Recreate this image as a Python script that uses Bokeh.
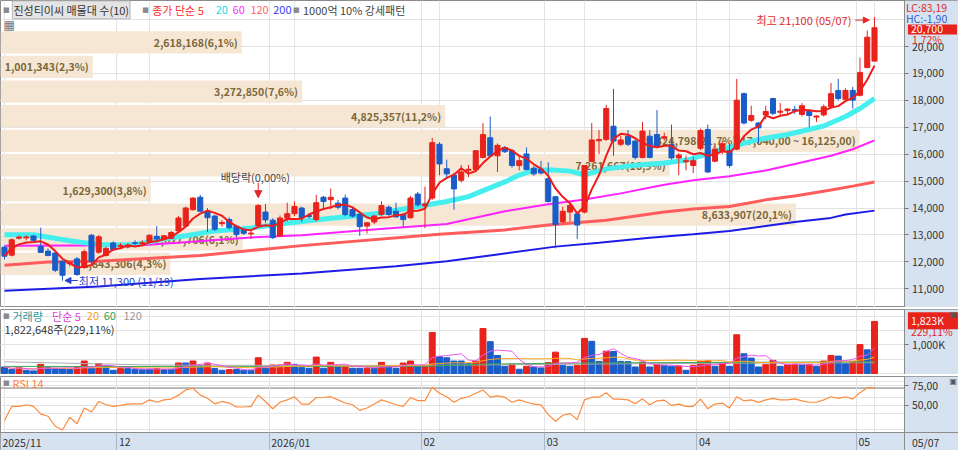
import pandas as pd
from bokeh.plotting import figure
from bokeh.layouts import column
from bokeh.models import (ColumnDataSource, Range1d, FixedTicker, NumeralTickFormatter,
                          Label, Arrow, NormalHead, Grid, Span, LinearAxis, BoxAnnotation)
from bokeh.core.properties import value
from bokeh.embed import file_html
from bokeh.resources import INLINE

# ---------------- data ----------------
stock_name = "진성티이씨"
month_labels = ["2025/11", "12", "2026/01", "02", "03", "04", "05"]
month_first_bar = [0, 16, 37, 58, 75, 96, 118]
last_date_label = "05/07"

opens = [12540, 12250, 12880, 12890, 12960, 12570, 12400, 12330, 12010, 11930,
         12110, 11800, 12990, 12360, 12240, 12700, 12580, 12550, 12710, 12680,
         12740, 12950, 12850, 12870, 13150, 13330, 13940, 14400, 13850, 13700,
         13420, 13570, 13330, 13210, 13040, 13350, 13850, 13550, 12960, 13630,
         13790, 14000, 13720, 13570, 14400, 14310, 14180, 14370, 13940, 13760,
         13330, 13480, 13760, 14030, 13880, 13760, 13640, 14520, 14080, 14370,
         16370, 15460, 15220, 15030, 15400, 15430, 15880, 16610, 15940, 16250,
         16130, 15580, 16010, 15480, 15440, 15090, 14420, 13490, 13850, 13780,
         13850, 15730, 16500, 16550, 17040, 16370, 16670, 16490, 15880, 16670,
         16730, 16600, 16370, 15860, 15720, 15580, 16220, 16920, 15740, 16130,
         16130, 16190, 18250, 17260, 17160, 17460, 18070, 17560, 17620, 17660,
         17480, 17590, 17380, 17460, 17760, 18370, 18040, 18370, 18190, 19220,
         19460]
highs = [12600, 12870, 12980, 12990, 13000, 13270, 12500, 12360, 12050, 12020,
         12180, 12460, 13030, 13000, 12560, 12760, 12700, 12680, 12800, 12800,
         13020, 13330, 13000, 13150, 13700, 14050, 14400, 14490, 14000, 13750,
         13550, 13650, 13380, 13260, 13150, 14150, 14150, 13620, 13720, 14200,
         14250, 14050, 13800, 14490, 14450, 14730, 14300, 14500, 14000, 13800,
         13480, 13750, 14250, 14100, 14200, 13800, 14450, 14600, 14800, 16610,
         16450, 15800, 15300, 15600, 15600, 16150, 17160, 17400, 16400, 16300,
         16200, 15900, 16250, 15550, 15750, 15700, 14450, 14050, 14150, 13800,
         15600, 17160, 16900, 17830, 18430, 16700, 16900, 16550, 17200, 16900,
         17640, 16800, 17100, 16050, 15950, 15900, 16950, 17100, 16300, 16500,
         16400, 18800, 18300, 17800, 17200, 17800, 18100, 17900, 17700, 17800,
         17900, 17650, 17450, 17850, 18650, 18800, 18450, 18500, 19590, 20600,
         21100]
lows = [12090, 12200, 12830, 12800, 12760, 12330, 12200, 11620, 11300, 11830,
        11480, 11740, 11920, 12300, 12200, 12400, 12480, 12500, 12600, 12620,
        12700, 12800, 12800, 12850, 13100, 13300, 13900, 13850, 13110, 13150,
        13300, 13200, 12950, 13000, 12850, 13300, 13450, 12850, 12950, 13500,
        13700, 13480, 13600, 13500, 13950, 13950, 13950, 13700, 13650, 12970,
        13050, 13400, 13700, 13700, 13650, 13300, 13600, 14050, 13250, 14300,
        15220, 15100, 13940, 14950, 15150, 15350, 15850, 15900, 15340, 16050,
        15500, 15400, 15400, 15200, 15250, 14200, 12500, 13450, 13500, 12850,
        13800, 15700, 16000, 16500, 15940, 16300, 16300, 15800, 15850, 15850,
        16250, 16500, 15800, 15220, 15400, 15300, 16150, 15300, 15700, 16000,
        15500, 16150, 17100, 17200, 16400, 17300, 17450, 17400, 17450, 17500,
        17400, 17000, 17200, 17400, 17700, 18000, 17980, 17700, 18150, 19200,
        19450]
closes = [12210, 12820, 12920, 12920, 12800, 12350, 12240, 11690, 11500, 11970,
          11530, 12380, 12020, 12930, 12500, 12450, 12610, 12620, 12690, 12710,
          12990, 12850, 12970, 13090, 13630, 14000, 14370, 13880, 13640, 13210,
          13460, 13270, 13020, 13060, 13070, 14090, 13560, 12900, 13630, 13790,
          14060, 13640, 13680, 14200, 14240, 14400, 14030, 13760, 13700, 13310,
          13450, 13700, 14090, 13760, 13670, 13570, 14370, 14120, 14150, 16430,
          15640, 15270, 14710, 15340, 15440, 16130, 16730, 15940, 16330, 16090,
          15580, 15760, 15430, 15270, 15300, 14240, 13390, 13880, 14100, 13370,
          15580, 16530, 16550, 17700, 16490, 16530, 16370, 15880, 16860, 15880,
          16310, 16650, 15860, 15970, 15760, 15760, 16880, 15340, 16190, 16390,
          15580, 18010, 17160, 17440, 16980, 17590, 17520, 17600, 17680, 17630,
          17800, 17440, 17420, 17760, 18250, 18070, 18370, 18010, 19040, 20350,
          20700]

# volume in thousands of shares, and colour flag (1 = red, 0 = blue)
vol_k = [230, 138, 207, 115, 92, 322, 207, 184, 161, 138,
         207, 437, 184, 345, 276, 115, 173, 173, 150, 150,
         150, 173, 138, 150, 368, 368, 437, 276, 368, 173,
         115, 138, 138, 115, 115, 552, 184, 299, 299, 391,
         322, 207, 184, 575, 184, 391, 230, 276, 184, 184,
         184, 184, 391, 230, 184, 368, 437, 276, 276, 1437,
         598, 552, 437, 437, 345, 437, 1575, 1115, 632, 253,
         322, 150, 253, 230, 196, 380, 748, 288, 253, 288,
         1230, 1127, 425, 782, 770, 425, 415, 230, 402, 230,
         310, 288, 253, 265, 115, 288, 425, 440, 253, 380,
         253, 1357, 690, 540, 230, 310, 460, 253, 310, 320,
         300, 320, 253, 437, 632, 610, 345, 425, 1012, 828,
         1823]
vol_up = [0, 0, 1, 0, 0, 1, 0, 0, 0, 0,
          1, 1, 0, 1, 0, 0, 1, 0, 0, 0,
          0, 1, 0, 0, 1, 0, 1, 0, 1, 0,
          0, 1, 0, 0, 0, 1, 0, 1, 1, 1,
          0, 0, 0, 1, 0, 1, 0, 1, 0, 0,
          1, 0, 1, 0, 0, 1, 1, 0, 1, 1,
          0, 0, 0, 0, 0, 1, 1, 0, 0, 0,
          1, 0, 1, 0, 0, 1, 1, 0, 0, 1,
          1, 0, 0, 1, 0, 0, 0, 0, 1, 0,
          1, 0, 0, 1, 0, 1, 1, 1, 0, 1,
          0, 1, 0, 0, 0, 1, 1, 0, 1, 1,
          0, 1, 0, 1, 1, 0, 0, 1, 1, 0,
          1]

rsi14 = [30.8, 48.7, 48.7, 50.8, 48.7, 39.2, 36.3, 23.7, 18.8, 35.0,
         26.7, 46.7, 41.7, 55.0, 50.8, 48.7, 50.0, 51.7, 52.0, 52.0,
         57.0, 54.0, 57.0, 58.0, 63.0, 69.6, 71.7, 63.0, 59.0, 52.0,
         55.0, 53.0, 48.0, 48.0, 48.7, 63.0, 55.0, 45.8, 54.0, 57.0,
         61.0, 51.7, 51.7, 60.0, 60.0, 61.0, 57.0, 53.0, 50.8, 43.7,
         46.7, 51.7, 57.0, 54.0, 50.8, 48.7, 60.0, 56.0, 56.0, 73.0,
         65.4, 61.0, 54.0, 59.0, 61.0, 65.4, 69.6, 60.4, 62.0, 60.4,
         54.0, 57.0, 54.0, 51.7, 50.8, 38.3, 30.0, 37.5, 39.6, 32.0,
         57.0, 60.4, 60.4, 66.0, 58.0, 58.0, 57.0, 52.0, 58.3, 50.8,
         55.8, 56.7, 50.0, 51.7, 48.7, 48.7, 58.0, 45.8, 51.7, 53.0,
         46.7, 61.0, 55.8, 57.0, 53.8, 57.0, 59.0, 57.0, 57.0, 58.3,
         55.8, 54.0, 54.0, 57.0, 61.0, 59.0, 61.0, 58.3, 66.0, 72.5,
         71.7]

# moving averages (they depend on history before the window)
ma20_bar = [0, 4, 9, 13, 18, 22, 25, 29, 34, 38, 45, 48, 52, 57, 61, 64, 69, 71, 73, 76,
            78, 80, 83, 87, 91, 94, 99, 104, 108, 113, 116, 118, 120]
ma20_val = [13004, 13004, 12785, 12640, 12640, 12860, 12967, 13150, 13260, 13404,
            13623, 13696, 13816, 14060, 14242, 14425, 14971, 15226, 15409, 15409,
            15372, 15237, 15456, 15591, 15675, 15773, 16185, 16549, 16731, 17050,
            17400, 17700, 18069]
ma60_bar = [0, 19, 34, 41, 50, 61, 69, 75, 80, 85, 91, 95, 100, 105, 109, 114, 117, 120]
ma60_val = [12603, 12620, 12905, 12990, 13186, 13404, 13878, 14144, 14315, 14545,
            14862, 15033, 15179, 15398, 15638, 15944, 16185, 16513]
ma120_bar = [0, 6, 13, 27, 41, 60, 69, 75, 83, 91, 95, 100, 105, 109, 114, 117, 120]
ma120_val = [11874, 11994, 12019, 12238, 12603, 13029, 13186, 13368, 13550, 13853,
             13962, 14060, 14304, 14450, 14669, 14815, 14971]
ma200_bar = [0, 13, 27, 41, 54, 61, 68, 76, 82, 89, 95, 100, 105, 109, 114, 116, 120]
ma200_val = [10926, 11083, 11364, 11571, 11837, 12019, 12275, 12566, 12712, 12895,
             13029, 13149, 13331, 13477, 13634, 13758, 13904]

vma60_bar = [0, 30, 58, 66, 80, 100, 120]
vma60_k = [250, 240, 250, 330, 370, 390, 410]
vma120_bar = [0, 20, 40, 60, 80, 100, 120]
vma120_k = [410, 300, 280, 290, 330, 360, 380]

# price-volume profile (매물대): 10 bands
band_hi = [20700, 19785, 18870, 17955, 17040, 16125, 15210, 14295, 13380, 12465]
band_lo = [19785, 18870, 17955, 17040, 16125, 15210, 14295, 13380, 12465, 11550]
band_vol = [2618168, 1001343, 3272850, 4825357, 9324798, 7261667, 1629300, 8633907, 2627706, 1843306]
band_pct = ["6,1", "2,3", "7,6", "11,2", "21,7", "16,9", "3,8", "20,1", "6,1", "4,3"]

price_ticks = [11000, 12000, 13000, 14000, 15000, 16000, 17000, 18000, 19000, 20000]
price_grid = price_ticks + [21000]
vol_ticks = [1000000]
vol_tick_labels = {1000000: "1,000K"}
rsi_ticks = [50, 75]
rsi_tick_labels = {50: "50,00", 75: "75,00"}
rsi_signal = 72

# header / status texts
last_close_txt = "20,700"
change_txt = "1,72%"
lc_txt = "LC:83,19"
hc_txt = "HC:-1,90"
high_txt = "최고 21,100 (05/07)"
low_txt = "최저 11,300 (11/19)"
exdiv_txt = "배당락(0,00%)"
exdiv_bar = 35
vol_last_txt = "1,823K"
vol_pct_txt = "229,11%"
vol_info_txt = "1,822,648주(229,11%)"

# ---------------- styling / layout ----------------
KF = "Noto Sans CJK KR"
UP, DN = "#e8231b", "#1a5cc8"
AXBG = "#d6e2ef"
GRID = "#e2e2e2"
OUT = "#8c8c8c"
FW = 958

n = len(closes)
idx = list(range(n))


# reference-pixel helpers for placing annotations
def X(px):
    return -0.55 + px * (124.75 / 912)


def Y(py):
    return 21640 - (py - 2) * (11300 / 310)


def V(py):
    return 2241e3 - (py - 315) * (2275e3 / 66)


def R(py):
    return 86.6 - (py - 383) * (71.2 / 57)


xr = Range1d(X(0), X(966))
AXX = X(912)
boundaries = [b - 0.5 for b in month_first_bar[1:]]


def mkfig(h, yr, top=0):
    p = figure(frame_width=FW, frame_height=h, x_range=xr, y_range=yr,
               output_backend="svg", toolbar_location=None,
               x_axis_location=None, y_axis_location=None,
               min_border_left=0, min_border_right=0, min_border_top=top,
               min_border_bottom=0, border_fill_color="white",
               background_fill_color="white", outline_line_color=OUT)
    return p


def add_yaxis(p, ticks, hgrid, overrides=None, fmt=None):
    p.add_layout(Grid(dimension=1, ticker=FixedTicker(ticks=hgrid), grid_line_color=GRID))
    p.add_layout(Grid(dimension=0, ticker=FixedTicker(ticks=boundaries), grid_line_color=GRID))
    p.add_layout(BoxAnnotation(left=AXX, fill_color=AXBG, fill_alpha=1.0, line_color=None,
                               level="underlay"))
    ax = LinearAxis(fixed_location=AXX, ticker=FixedTicker(ticks=ticks))
    if fmt is not None:
        ax.formatter = fmt
    if overrides:
        ax.major_label_overrides = overrides
    ax.axis_line_color = OUT
    ax.major_tick_line_color = "#777777"
    ax.major_tick_out = 4
    ax.major_tick_in = 0
    ax.minor_tick_line_color = None
    ax.major_label_text_font = KF
    ax.major_label_text_font_size = "10.5px"
    ax.major_label_text_color = "#333333"
    ax.major_label_standoff = 3
    p.add_layout(ax, "right")


def lab(p, x, y, text, color="#333333", size="11px", font=KF, align="left", bold=False, **kw):
    p.add_layout(Label(x=x, y=y, text=text, text_color=color, text_font_size=size,
                       text_font=font, text_align=align, text_baseline="middle",
                       text_font_style="bold" if bold else "normal", **kw))


# ---------------- main price panel ----------------
p1 = mkfig(307, Range1d(Y(313), Y(0)))
add_yaxis(p1, price_ticks, price_grid, fmt=NumeralTickFormatter(format="0,0"))

# volume profile bands
bmax = max(band_vol)
x0 = X(0)
span = (AXX - x0) * 0.95
band_right = [x0 + v / bmax * span for v in band_vol]
band_top = [h - 130 for h in band_hi]
band_bot = [l - 40 for l in band_lo]
band_text = []
for v, pc, h, l in zip(band_vol, band_pct, band_hi, band_lo):
    t = f"{v:,}({pc}%)"
    if v == bmax:
        t += f"({h:,},00 ~ {l:,},00)"
    band_text.append(t)
bsrc = ColumnDataSource(dict(left=[x0] * len(band_vol), right=band_right, top=band_top,
                             bottom=band_bot,
                             ym=[(a + b) / 2 for a, b in zip(band_top, band_bot)],
                             text=band_text))
p1.quad(left="left", right="right", top="top", bottom="bottom", source=bsrc,
        fill_color="#f6e7d5", line_color=None)
p1.text(x="right", y="ym", text="text", source=bsrc, text_align="right", text_baseline="middle",
        x_offset=-4, text_font=value(KF), text_font_size=value("10.5px"),
        text_font_style=value("bold"), text_color="#7b683a")

# moving averages
p1.line(ma200_bar, ma200_val, line_color="#1c1ce6", line_width=2)
p1.line(ma120_bar, ma120_val, line_color="#ff5c5c", line_width=3)
p1.line(ma60_bar, ma60_val, line_color="#ff22ff", line_width=2)
p1.line(ma20_bar, ma20_val, line_color="#44efee", line_width=5)

# candles
cols = [UP if c >= o else DN for o, c in zip(opens, closes)]
csrc = ColumnDataSource(dict(x=idx, o=opens, h=highs, l=lows, c=closes,
                             top=[max(o, c) for o, c in zip(opens, closes)],
                             bot=[min(o, c) for o, c in zip(opens, closes)], color=cols))
p1.segment(x0="x", y0="l", x1="x", y1="h", source=csrc, line_color="color", line_width=1)
p1.vbar(x="x", width=0.7, top="top", bottom="bot", source=csrc,
        fill_color="color", line_color="color")

ma5 = pd.Series(closes).rolling(5, min_periods=1).mean().tolist()
p1.line(idx, ma5, line_color="#ee1c1c", line_width=2)

# legend row
lab(p1, X(2.5), Y(10), "■", "#8a8a8a", size="7px", font="DejaVu Sans")
lab(p1, X(12), Y(9.5), f"{stock_name} 매물대 수(10)", "#333333",
    background_fill_color="#e4e4e4", border_line_color="#b4b4b4", padding=1)
lab(p1, X(143), Y(10), "■", "#8a8a8a", size="7px", font="DejaVu Sans")
lab(p1, X(153), Y(9.5), "종가 단순 5", "#ff2a2a")
lab(p1, X(217), Y(9.5), "20", "#2ad6e2")
lab(p1, X(234), Y(9.5), "60", "#ff30ff")
lab(p1, X(252), Y(9.5), "120", "#ff6464")
lab(p1, X(275), Y(9.5), "200", "#3a3aff")
lab(p1, X(295), Y(10), "■", "#8a8a8a", size="7px", font="DejaVu Sans")
lab(p1, X(305), Y(9.5), "1000억 10% 강세패턴", "#444444")
lab(p1, X(3), Y(25), "▦", "#777777", size="12px", font="DejaVu Sans")

# high / low / ex-dividend annotations
lab(p1, X(858), Y(20), high_txt, "#e02a2a", align="right")
p1.add_layout(Arrow(x_start=X(862), y_start=Y(20), x_end=X(876), y_end=Y(20),
                    line_color="#e02a2a", line_width=1,
                    end=NormalHead(size=6, fill_color="#e02a2a", line_color="#e02a2a")))
lab(p1, X(79), Y(285.5), low_txt, "#2244cc")
p1.add_layout(Arrow(x_start=X(78), y_start=Y(285.5), x_end=X(65), y_end=Y(285.5),
                    line_color="#2244cc", line_width=1,
                    end=NormalHead(size=6, fill_color="#2244cc", line_color="#2244cc")))
lab(p1, X(222), Y(180), exdiv_txt, "#444444")
p1.add_layout(Arrow(x_start=exdiv_bar, y_start=Y(186), x_end=exdiv_bar, y_end=Y(201),
                    line_color="#e02a2a", line_width=1,
                    end=NormalHead(size=7, fill_color="#e02a2a", line_color="#e02a2a")))

# right column status
lab(p1, X(913), Y(7.5), lc_txt, "#e02a2a", size="10.5px")
lab(p1, X(913), Y(18), hc_txt, "#2f5fd0", size="10.5px")
lab(p1, X(915), Y(29.5), last_close_txt, "white", size="10.5px",
    background_fill_color=UP, padding=dict(left=3, right=14, top=1, bottom=1))
lab(p1, X(919), Y(40), change_txt, "#e02a2a", size="10.5px")

# ---------------- volume panel ----------------
p2 = mkfig(65, Range1d(V(381), V(315)), top=2)
add_yaxis(p2, vol_ticks, [0] + vol_ticks, overrides=vol_tick_labels)
vols = [v * 1000 for v in vol_k]
vsrc = ColumnDataSource(dict(x=idx, v=vols, color=[UP if u else DN for u in vol_up]))
p2.vbar(x="x", width=0.82, top="v", bottom=0, source=vsrc, fill_color="color", line_color="color")
p2.line(vma120_bar, [v * 1000 for v in vma120_k], line_color="#aaaaaa", line_width=1)
p2.line(vma60_bar, [v * 1000 for v in vma60_k], line_color="#3aa855", line_width=1)
vma20 = pd.Series(vols).rolling(20, min_periods=1).mean().tolist()
vma5 = pd.Series(vols).rolling(5, min_periods=1).mean().tolist()
p2.line(idx, vma20, line_color="#ffaa22", line_width=1)
p2.line(idx, vma5, line_color="#ee55ee", line_width=1)

lab(p2, X(2.5), V(321.5), "■", "#8a8a8a", size="7px", font="DejaVu Sans")
lab(p2, X(12), V(321.5), "거래량", "#2a9a9a")
lab(p2, X(52), V(321.5), "단순 5", "#e040e0")
lab(p2, X(87), V(321.5), "20", "#f0a020")
lab(p2, X(104), V(321.5), "60", "#30a050")
lab(p2, X(124), V(321.5), "120", "#999999")
lab(p2, X(4), V(334.5), vol_info_txt, "#333333")
lab(p2, X(915), V(326.5), vol_last_txt, "white", size="10.5px",
    background_fill_color=UP, padding=dict(left=3, right=14, top=1, bottom=1))
lab(p2, X(918), V(337.5), vol_pct_txt, "#e02a2a", size="10.5px")
lab(p2, X(957), V(320.5), "▣", "#555555", size="8px", font="DejaVu Sans")

# ---------------- RSI panel (with date band) ----------------
p3 = mkfig(74, Range1d(R(458), R(383)), top=2)
p3.add_layout(Span(location=rsi_signal, dimension="width", line_color="#777777",
                   line_width=1, level="underlay"))
add_yaxis(p3, rsi_ticks, rsi_ticks, overrides=rsi_tick_labels)
p3.add_layout(BoxAnnotation(top=R(440), fill_color=AXBG, fill_alpha=1.0, line_color=None,
                            level="underlay"))
xa = LinearAxis(fixed_location=R(440), ticker=FixedTicker(ticks=boundaries))
xa.axis_line_color = OUT
xa.major_tick_line_color = "#aab6c6"
xa.major_tick_out = 18
xa.major_tick_in = 0
xa.minor_tick_line_color = None
xa.major_label_text_font_size = "1px"
xa.major_label_text_alpha = 0
xa.major_label_standoff = 0
p3.add_layout(xa, "below")
p3.line(idx, rsi14, line_color="#ff8a3d", line_width=1.2)

lab(p3, X(2.5), R(390), "■", "#8a8a8a", size="7px", font="DejaVu Sans")
lab(p3, X(12), R(389.5), "RSI 14", "#ff8040")
lab(p3, X(957), R(388), "▣", "#555555", size="8px", font="DejaVu Sans")

month_x = [X(2)] + [b + 0.3 for b in boundaries]
for mx, ml in zip(month_x, month_labels):
    lab(p3, mx, R(449.5), ml, "#333333", size="10.5px")
lab(p3, X(919), R(449.5), last_date_label, "#333333", size="10.5px")

layout = column(p1, p2, p3, spacing=0)
open("out.html", "w").write(file_html(layout, INLINE))
